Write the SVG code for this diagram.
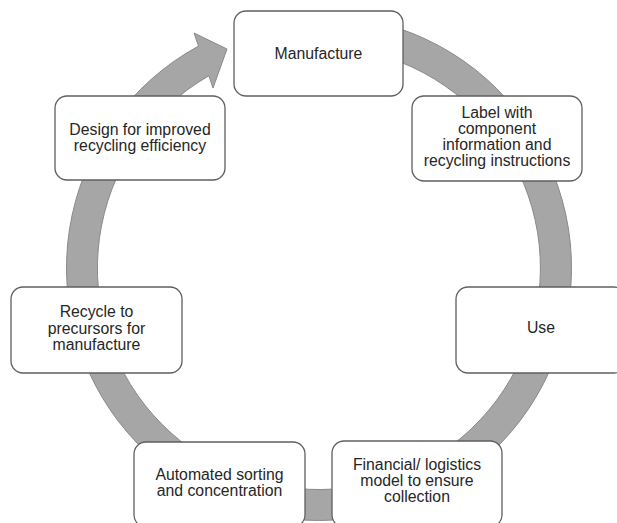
<svg xmlns="http://www.w3.org/2000/svg" width="617" height="523" viewBox="0 0 617 523">
<style>
.box{fill:#ffffff;stroke:#5f5f5f;stroke-width:1.3}
.ring{fill:#a6a6a6;stroke:#8a8a8a;stroke-width:1}
text{font-family:"Liberation Sans",Arial,sans-serif;font-size:15.8px;fill:#262626;text-anchor:middle}
</style>
<rect width="617" height="523" fill="#ffffff"/>
<g id="connectors">
<path class="ring" d="M384.4,24.1 A252.5,252.5 0 1 1 198.5,46.1 L194,33 L227,49 L213,88 L208.9,75.8 A221.5,221.5 0 1 0 376.3,54.1 Z"/>
</g>
<g id="manufacture">
<rect class="box" x="234" y="11" width="169" height="85" rx="12"/>
<text x="318.5" y="59">Manufacture</text>
</g>
<g id="label">
<rect class="box" x="412" y="96" width="170" height="85" rx="12"/>
<text x="497" y="118">Label with</text>
<text x="497" y="134">component</text>
<text x="497" y="150">information and</text>
<text x="497" y="166">recycling instructions</text>
</g>
<g id="use">
<rect class="box" x="456" y="287" width="170" height="86" rx="12"/>
<text x="541" y="333">Use</text>
</g>
<g id="financial">
<rect class="box" x="332" y="441" width="170" height="86" rx="12"/>
<text x="417" y="470">Financial/ logistics</text>
<text x="417" y="486">model to ensure</text>
<text x="417" y="502">collection</text>
</g>
<g id="automated">
<rect class="box" x="134" y="442" width="171" height="85" rx="12"/>
<text x="219.5" y="480">Automated sorting</text>
<text x="219.5" y="496">and concentration</text>
</g>
<g id="recycle">
<rect class="box" x="11" y="287" width="171" height="86" rx="12"/>
<text x="96.5" y="317">Recycle to</text>
<text x="96.5" y="333.5">precursors for</text>
<text x="96.5" y="350">manufacture</text>
</g>
<g id="design">
<rect class="box" x="55" y="96" width="170" height="84" rx="12"/>
<text x="140" y="135">Design for improved</text>
<text x="140" y="151">recycling efficiency</text>
</g>
</svg>
